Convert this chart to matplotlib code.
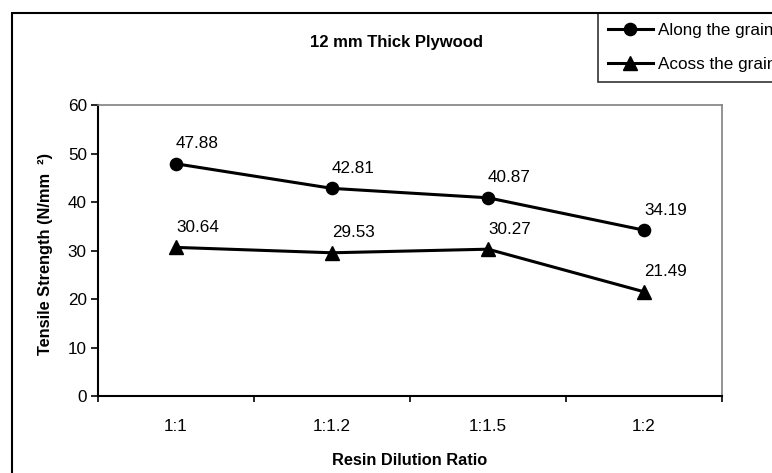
import matplotlib.pyplot as plt
import matplotlib.patches as patches

plt.rcParams['font.family'] = ['Liberation Sans', 'DejaVu Sans']

# data
ratios = ["1:1", "1:1.2", "1:1.5", "1:2"]
along_grain = [47.88, 42.81, 40.87, 34.19]
across_grain = [30.64, 29.53, 30.27, 21.49]
yticks = [0, 10, 20, 30, 40, 50, 60]

W, H = 772, 473
fs = 12.3
fig = plt.figure(figsize=(W / 100, H / 100), dpi=100)
ax = fig.add_axes([98 / W, 1 - 396 / H, (722 - 98) / W, (396 - 105) / H])

x = list(range(len(ratios)))
ax.plot(x, along_grain, color="black", lw=2.2, marker="o", ms=8.8, label="Along the grain")
ax.plot(x, across_grain, color="black", lw=2.2, marker="^", ms=10, label="Acoss the grain")

# data labels
for ys in [along_grain, across_grain]:
    for xi, yi in zip(x, ys):
        ax.annotate(f"{yi:.2f}", (xi, yi), xytext=(0, 20), textcoords="offset pixels",
                    ha="left", va="center", fontsize=fs)

ax.set_xlim(-0.5, len(ratios) - 0.5)
ax.set_ylim(0, 60)
ax.set_yticks(yticks)
ax.set_xticks([i - 0.5 for i in range(len(ratios) + 1)])
ax.set_xticklabels([])
ax.set_xticks(x, minor=True)
ax.set_xticklabels(ratios, minor=True)
ax.tick_params(axis="x", which="minor", length=0, pad=16.5, labelsize=fs)
ax.tick_params(axis="x", which="major", length=4.5, width=1.2, direction="out")
ax.tick_params(axis="y", length=5, width=1.2, direction="out", labelsize=fs, pad=3)

for s in ["top", "right"]:
    ax.spines[s].set_color("#808080")
    ax.spines[s].set_linewidth(1.2)
for s in ["left", "bottom"]:
    ax.spines[s].set_color("black")
    ax.spines[s].set_linewidth(1.5)

fig.text(46 / W, 1 - 254 / H, "Tensile Strength (N/mm  ²)", rotation=90, ha="center", va="center",
         fontsize=11.8, fontweight="bold")
fig.text(410 / W, 1 - 460.5 / H, "Resin Dilution Ratio", ha="center", va="center",
         fontsize=11.8, fontweight="bold")
fig.text(396 / W, 1 - 42.5 / H, "12 mm Thick Plywood", ha="center", va="center",
         fontsize=12, fontweight="bold")

# outer chart frame (runs off the right and bottom edge)
fig.patches.append(patches.Rectangle((12 / W, -0.1), 2, 1 - 13 / H + 0.1, transform=fig.transFigure,
                                     fill=False, edgecolor="black", lw=1.5))

leg = ax.legend(loc="upper left", bbox_to_anchor=(598 / W, 1 - 13 / H), bbox_transform=fig.transFigure,
                frameon=True, fancybox=False, edgecolor="black", fontsize=fs, borderaxespad=0,
                handlelength=2.6, handletextpad=0.3, labelspacing=1.1, borderpad=0.6)
leg.get_frame().set_linewidth(1.2)

fig.savefig("out.png", dpi=100)
